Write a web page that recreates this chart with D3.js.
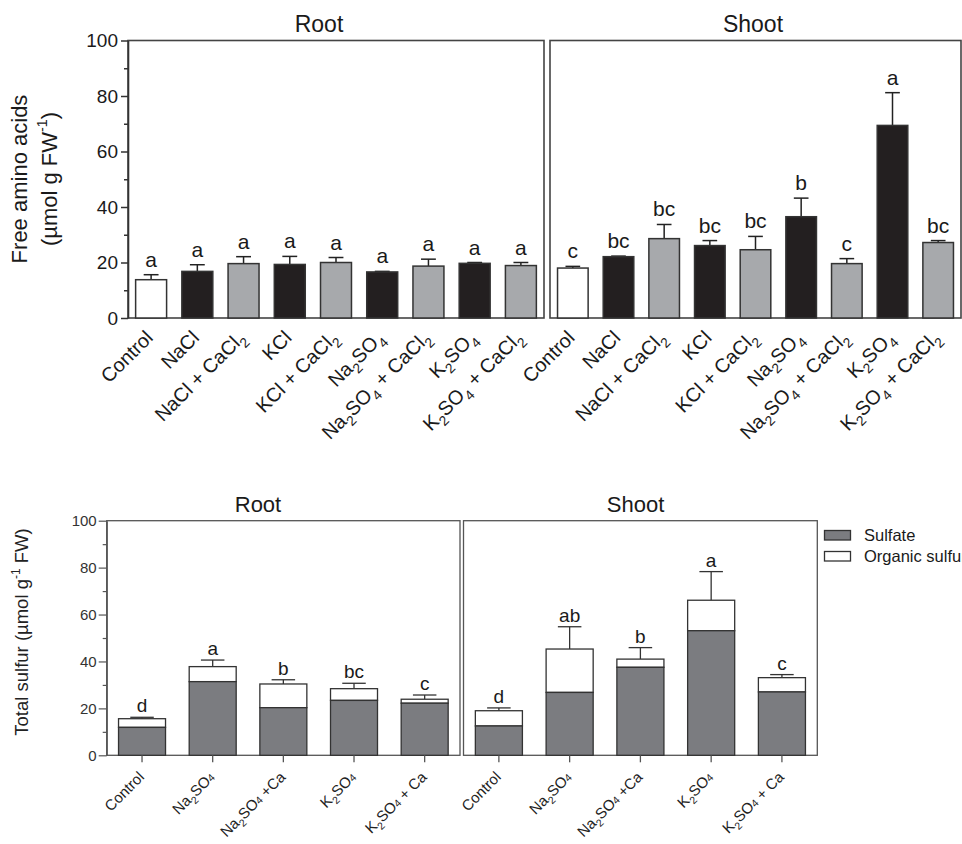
<!DOCTYPE html>
<html>
<head>
<meta charset="utf-8">
<script src="https://cdn.jsdelivr.net/npm/d3@7"></script>
<style>
  body { margin: 0; background: #fff; }
  svg { display: block; font-family: "Liberation Sans", Arial, sans-serif; }
</style>
</head>
<body>
<svg id="chart" width="962" height="844"></svg>
<script>
"use strict";

//////////////////////////////////////////////////////////// DATA
// Free amino acids (upper figure). "_2" = subscript
const aaTreatments = ["Control", "NaCl", "NaCl + CaCl_2", "KCl", "KCl + CaCl_2",
  "Na_2SO_4", "Na_2SO_4 + CaCl_2", "K_2SO_4", "K_2SO_4 + CaCl_2"];
const aaRootMean = [13.8, 16.8, 19.6, 19.3, 20.0, 16.6, 18.7, 19.7, 18.9];
const aaRootSem = [1.8, 2.4, 2.5, 2.9, 1.8, 0.2, 2.5, 0.3, 1.1];
const aaRootLetters = ["a", "a", "a", "a", "a", "a", "a", "a", "a"];
const aaShootMean = [18.0, 22.1, 28.6, 26.1, 24.6, 36.5, 19.6, 69.4, 27.2];
const aaShootSem = [0.6, 0.2, 5.1, 1.8, 4.8, 6.7, 1.8, 11.8, 0.7];
const aaShootLetters = ["c", "bc", "bc", "bc", "bc", "b", "c", "a", "bc"];
const aaTicks = [0, 20, 40, 60, 80, 100];
const aaMinorTicks = [10, 30, 50, 70, 90];

// Total sulfur (lower figure). "~4" = small digit on the baseline
const sTreatments = ["Control", "Na_2SO~4", "Na_2SO~4 +Ca", "K_2SO~4", "K_2SO~4 + Ca"];
const sRootSulfate = [11.9, 31.4, 20.3, 23.4, 22.2];
const sRootOrganic = [3.7, 6.4, 10.1, 5.0, 1.7];
const sRootSem = [0.6, 2.8, 1.8, 2.3, 1.8];
const sRootLetters = ["d", "a", "b", "bc", "c"];
const sShootSulfate = [12.5, 26.8, 37.5, 53.1, 27.0];
const sShootOrganic = [6.5, 18.5, 3.5, 13.0, 6.1];
const sShootSem = [1.2, 9.5, 4.9, 12.2, 1.3];
const sShootLetters = ["d", "ab", "b", "a", "c"];
const sTicks = [0, 20, 40, 60, 80, 100];
const sMinorTicks = [10, 30, 50, 70, 90];
const legendLabels = ["Sulfate", "Organic sulfur"];

//////////////////////////////////////////////////////////// HELPERS
const svg = d3.select("#chart");

// texte avec indices / exposants
function richText(sel, str, size) {
  const parts = str.split(/([_~^]-?\d)/).filter((s) => s !== "");
  let shift = 0;
  parts.forEach((p) => {
    let dy = 0, fs = size, txt = p;
    if (p[0] === "_") { fs = size * 0.7; dy = size * 0.3; txt = p.slice(1); }
    else if (p[0] === "~") { fs = size * 0.7; dy = 0; txt = p.slice(1); }
    else if (p[0] === "^") { fs = size * 0.65; dy = -size * 0.45; txt = p.slice(1); }
    sel.append("tspan").attr("font-size", fs).attr("dy", dy - shift).text(txt);
    shift = dy;
  });
}

const aaFill = (i) => (i === 0 ? "#ffffff" : i % 2 === 1 ? "#231f20" : "#a7a9ac");

//////////////////////////////////////////////////////////// UPPER FIGURE
const yA = d3.scaleLinear().domain([0, 100]).range([318, 40.5]);

function aaPanel(x0, x1, means, sems, letters, title, titleX) {
  const g = svg.append("g");
  const x = d3.scaleBand().domain(d3.range(aaTreatments.length))
    .range([x0, x1]).paddingInner(0.33).paddingOuter(0.165);
  const bw = x.bandwidth();

  g.append("rect")
    .attr("x", x0).attr("y", yA(100))
    .attr("width", x1 - x0).attr("height", yA(0) - yA(100))
    .attr("fill", "none").attr("stroke", "#444").attr("stroke-width", 1.6);

  // error bars (behind bars)
  const err = g.selectAll(".err").data(means).enter().append("g");
  err.append("line")
    .attr("x1", (d, i) => x(i) + bw / 2).attr("x2", (d, i) => x(i) + bw / 2)
    .attr("y1", (d) => yA(d)).attr("y2", (d, i) => yA(d + sems[i]))
    .attr("stroke", "#222").attr("stroke-width", 1.5);
  err.append("line")
    .attr("x1", (d, i) => x(i) + bw * 0.26).attr("x2", (d, i) => x(i) + bw * 0.74)
    .attr("y1", (d, i) => yA(d + sems[i])).attr("y2", (d, i) => yA(d + sems[i]))
    .attr("stroke", "#222").attr("stroke-width", 1.5);

  g.selectAll(".bar").data(means).enter().append("rect")
    .attr("x", (d, i) => x(i)).attr("y", (d) => yA(d))
    .attr("width", bw).attr("height", (d) => yA(0) - yA(d))
    .attr("fill", (d, i) => aaFill(i))
    .attr("stroke", "#333").attr("stroke-width", 1.5);

  g.selectAll(".letter").data(letters).enter().append("text")
    .attr("x", (d, i) => x(i) + bw / 2)
    .attr("y", (d, i) => yA(means[i] + sems[i]) - 8)
    .attr("text-anchor", "middle").attr("font-size", 21).attr("fill", "#1a1a1a")
    .text((d) => d);

  // étiquettes inclinées
  aaTreatments.forEach((lab, i) => {
    const t = g.append("text")
      .attr("transform", `translate(${x(i) + bw / 2 + 3},339) rotate(-45)`)
      .attr("text-anchor", "end").attr("fill", "#1a1a1a");
    richText(t, lab, 19.8);
  });

  g.append("text")
    .attr("x", titleX).attr("y", 31.5).attr("text-anchor", "middle")
    .attr("font-size", 23).attr("fill", "#1a1a1a").text(title);
}

aaPanel(128, 544, aaRootMean, aaRootSem, aaRootLetters, "Root", 319);
aaPanel(550, 961, aaShootMean, aaShootSem, aaShootLetters, "Shoot", 753);

// Eje Y (upper)
const aaAxis = svg.append("g").attr("transform", "translate(128,0)")
  .call(d3.axisLeft(yA).tickValues(aaTicks).tickSize(7).tickPadding(3).tickSizeOuter(0));
svg.append("g").attr("transform", "translate(128,0)")
  .call(d3.axisLeft(yA).tickValues(aaMinorTicks).tickSize(4).tickFormat("").tickSizeOuter(0))
  .select(".domain").remove();
svg.selectAll(".tick line").attr("stroke", "#333").attr("stroke-width", 1.5);
aaAxis.select(".domain").attr("stroke", "#333").attr("stroke-width", 1.6);
aaAxis.selectAll("text").attr("font-size", 19).attr("fill", "#1a1a1a")
  .attr("font-family", "Liberation Sans, Arial, sans-serif");

svg.append("text").attr("transform", "translate(27,179) rotate(-90)")
  .attr("text-anchor", "middle").attr("font-size", 22).attr("fill", "#1a1a1a")
  .text("Free amino acids");
const aaLab2 = svg.append("text").attr("transform", "translate(57,179) rotate(-90)")
  .attr("text-anchor", "middle").attr("fill", "#1a1a1a");
richText(aaLab2, "(µmol g FW^-1)", 22);

//////////////////////////////////////////////////////////// LOWER FIGURE
const yS = d3.scaleLinear().domain([0, 100]).range([755.3, 520.7]);

function sPanel(x0, x1, sulfate, organic, sems, letters, title, titleX) {
  const g = svg.append("g");
  const x = d3.scaleBand().domain(d3.range(sTreatments.length))
    .range([x0, x1]).paddingInner(0.335).paddingOuter(0.1675);
  const bw = x.bandwidth();
  const total = sulfate.map((d, i) => d + organic[i]);

  g.append("rect")
    .attr("x", x0).attr("y", yS(100))
    .attr("width", x1 - x0).attr("height", yS(0) - yS(100))
    .attr("fill", "none").attr("stroke", "#555").attr("stroke-width", 1.3);

  const err = g.selectAll(".err").data(total).enter().append("g");
  err.append("line")
    .attr("x1", (d, i) => x(i) + bw / 2).attr("x2", (d, i) => x(i) + bw / 2)
    .attr("y1", (d) => yS(d)).attr("y2", (d, i) => yS(d + sems[i]))
    .attr("stroke", "#333").attr("stroke-width", 1.3);
  err.append("line")
    .attr("x1", (d, i) => x(i) + bw * 0.25).attr("x2", (d, i) => x(i) + bw * 0.75)
    .attr("y1", (d, i) => yS(d + sems[i])).attr("y2", (d, i) => yS(d + sems[i]))
    .attr("stroke", "#333").attr("stroke-width", 1.3);

  g.selectAll(".org").data(total).enter().append("rect")
    .attr("x", (d, i) => x(i)).attr("y", (d) => yS(d))
    .attr("width", bw).attr("height", (d, i) => yS(sulfate[i]) - yS(d))
    .attr("fill", "#fff").attr("stroke", "#333").attr("stroke-width", 1.3);
  g.selectAll(".sul").data(sulfate).enter().append("rect")
    .attr("x", (d, i) => x(i)).attr("y", (d) => yS(d))
    .attr("width", bw).attr("height", (d) => yS(0) - yS(d))
    .attr("fill", "#7b7c80").attr("stroke", "#333").attr("stroke-width", 1.3);

  g.selectAll(".letter").data(letters).enter().append("text")
    .attr("x", (d, i) => x(i) + bw / 2)
    .attr("y", (d, i) => yS(total[i] + sems[i]) - 5)
    .attr("text-anchor", "middle").attr("font-size", 19).attr("fill", "#1a1a1a")
    .text((d) => d);

  // ticks bajo el eje
  g.selectAll(".xt").data(sTreatments).enter().append("line")
    .attr("x1", (d, i) => x(i) + bw / 2).attr("x2", (d, i) => x(i) + bw / 2)
    .attr("y1", yS(0)).attr("y2", yS(0) + 7)
    .attr("stroke", "#555").attr("stroke-width", 1.3);

  sTreatments.forEach((lab, i) => {
    const t = g.append("text")
      .attr("transform", `translate(${x(i) + bw / 2 + 3},778) rotate(-45)`)
      .attr("text-anchor", "end").attr("fill", "#222");
    richText(t, lab, 15);
  });

  g.append("text")
    .attr("x", titleX).attr("y", 512).attr("text-anchor", "middle")
    .attr("font-size", 22).attr("fill", "#1a1a1a").text(title);
}

sPanel(106.7, 460, sRootSulfate, sRootOrganic, sRootSem, sRootLetters, "Root", 258);
sPanel(463.5, 817.3, sShootSulfate, sShootOrganic, sShootSem, sShootLetters, "Shoot", 635.5);

const sAxis = svg.append("g").attr("transform", "translate(106.7,0)")
  .call(d3.axisLeft(yS).tickValues(sTicks).tickSize(8).tickPadding(2).tickSizeOuter(0));
const sMinor = svg.append("g").attr("transform", "translate(106.7,0)")
  .call(d3.axisLeft(yS).tickValues(sMinorTicks).tickSize(4).tickFormat("").tickSizeOuter(0));
sMinor.select(".domain").remove();
sAxis.select(".domain").attr("stroke", "#555").attr("stroke-width", 1.3);
sAxis.selectAll(".tick line").attr("stroke", "#555").attr("stroke-width", 1.2);
sMinor.selectAll(".tick line").attr("stroke", "#555").attr("stroke-width", 1.2);
sAxis.selectAll("text").attr("font-size", 15).attr("fill", "#333")
  .attr("font-family", "Liberation Sans, Arial, sans-serif");

const sLab = svg.append("text").attr("transform", "translate(28,632) rotate(-90)")
  .attr("text-anchor", "middle").attr("fill", "#222");
richText(sLab, "Total sulfur (µmol g^-1 FW)", 18.5);

// legend
const legFill = ["#7b7c80", "#ffffff"];
legendLabels.forEach((lab, i) => {
  svg.append("rect").attr("x", 824.5).attr("y", 530.5 + i * 21)
    .attr("width", 26).attr("height", 9.5)
    .attr("fill", legFill[i]).attr("stroke", "#333").attr("stroke-width", 1.3);
  svg.append("text").attr("x", 864).attr("y", 541 + i * 20.5)
    .attr("font-size", 16.5).attr("fill", "#1a1a1a").text(lab);
});
</script>
</body>
</html>
